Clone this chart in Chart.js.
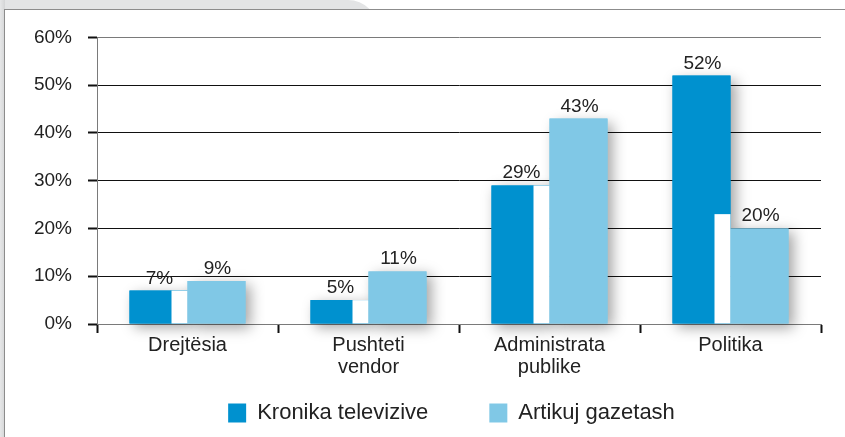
<!DOCTYPE html>
<html>
<head>
<meta charset="utf-8">
<script src="https://cdn.jsdelivr.net/npm/chart.js@4.4.1/dist/chart.umd.min.js"></script>
<style>
  html, body { margin: 0; padding: 0; background: #ffffff; width: 845px; height: 437px; overflow: hidden; }
  #topgrey { position: absolute; left: 0; top: 0; width: 378px; height: 40px; background: #e3e4e5; border-top-right-radius: 30px; }
  #leftgrey { position: absolute; left: 0; top: 0; width: 5px; height: 437px; background: linear-gradient(to right, #e6e7e8, #d4d5d6); }
  #frame { position: absolute; left: 4px; top: 9px; width: 841px; height: 428px; background: #ffffff; border-left: 1px solid #8c8c8c; border-top: 1px solid #8c8c8c; }
  #wrap { position: absolute; left: 0px; top: 0px; width: 840px; height: 427px; }
</style>
</head>
<body>
<div id="topgrey"></div>
<div id="leftgrey"></div>
<div id="frame"><div id="wrap"><canvas id="c" width="840" height="427"></canvas></div></div>
<script>
// ---- data ----
const categories = [['Drejtësia'], ['Pushteti', 'vendor'], ['Administrata', 'publike'], ['Politika']];
const seriesNames = ['Kronika televizive', 'Artikuj gazetash'];
const kronika = [7, 5, 29, 52];
const artikuj = [9, 11, 43, 20];
const whiteStrip = [7, 5, 29, 23];
const yTickLabels = ['0%', '10%', '20%', '30%', '40%', '50%', '60%'];

const DARK = '#0091cf';
const LIGHT = '#80c8e6';
const TEXT = '#222222';
const STRIP_W = 16;
const FONT = '"Liberation Sans", Arial, sans-serif';

const shadowPlugin = {
  id: 'shadowPlugin',
  beforeDraw(chart) {
    Object.values(chart.scales).forEach(s => { s._computeLabelArea = () => undefined; });
  },
  beforeDatasetsDraw(chart) {
    const ctx = chart.ctx;
    ctx.save();
    ctx.shadowColor = 'rgba(0,0,0,0.36)';
    ctx.shadowBlur = 13;
    ctx.shadowOffsetX = 5;
    ctx.shadowOffsetY = 4;
    [0, 1].forEach(di => {
      const meta = chart.getDatasetMeta(di);
      ctx.fillStyle = chart.data.datasets[di].backgroundColor;
      meta.data.forEach(el => {
        const p = el.getProps(['x', 'y', 'base', 'width'], true);
        ctx.fillRect(p.x - p.width / 2, p.y, p.width, p.base - p.y);
      });
    });
    ctx.restore();
  },
  afterDatasetsDraw(chart) {
    const ctx = chart.ctx;
    const yScale = chart.scales.y;
    ctx.save();
    const meta0 = chart.getDatasetMeta(0);
    ctx.fillStyle = '#ffffff';
    meta0.data.forEach((el, i) => {
      const p = el.getProps(['x', 'width'], true);
      const top = yScale.getPixelForValue(whiteStrip[i]);
      const bottom = yScale.getPixelForValue(0);
      ctx.fillRect(p.x + p.width / 2 - STRIP_W, top, STRIP_W, bottom - top - 0.5);
    });
    ctx.fillStyle = TEXT;
    ctx.font = '19px ' + FONT;
    ctx.textAlign = 'center';
    ctx.textBaseline = 'alphabetic';
    [0, 1].forEach(di => {
      const meta = chart.getDatasetMeta(di);
      const vals = chart.data.datasets[di].data;
      meta.data.forEach((el, i) => {
        const p = el.getProps(['x', 'y'], true);
        ctx.fillText(vals[i] + '%', p.x + 1, p.y - 7);
      });
    });
    ctx.restore();
  }
};

new Chart(document.getElementById('c'), {
  type: 'bar',
  data: {
    labels: categories,
    datasets: [
      { label: seriesNames[0], data: kronika, backgroundColor: DARK, borderWidth: 0 },
      { label: seriesNames[1], data: artikuj, backgroundColor: LIGHT, borderWidth: 0 }
    ]
  },
  options: {
    responsive: false,
    animation: false,
    devicePixelRatio: 1,
    categoryPercentage: 0.641,
    barPercentage: 1,
    layout: { padding: { left: 77, right: 24, top: 24, bottom: 3 } },
    plugins: {
      legend: {
        position: 'bottom',
        labels: {
          boxWidth: 18,
          boxHeight: 19,
          padding: 61,
          color: TEXT,
          font: { family: FONT, size: 22 }
        }
      },
      tooltip: { enabled: false }
    },
    scales: {
      x: {
        afterFit(s) { s.height = 17; },
        grid: {
          offset: true,
          drawOnChartArea: false,
          drawTicks: true,
          tickLength: 9,
          tickColor: '#111111',
          tickWidth: 2
        },
        border: { display: true, color: '#7a7a7a', width: 1 },
        ticks: {
          padding: 1,
          color: TEXT,
          maxRotation: 0,
          autoSkip: false,
          font: { family: FONT, size: 20, lineHeight: 1.12 }
        }
      },
      y: {
        min: 0,
        max: 60,
        afterFit(s) { s.width = 15; },
        grid: {
          color: ctx => (ctx.tick && (ctx.tick.value === 0 || ctx.tick.value === 60)) ? '#7a7a7a' : '#111111',
          lineWidth: 1,
          drawTicks: true,
          tickLength: 9,
          tickColor: '#111111',
          tickWidth: 2
        },
        border: { display: true, color: '#7a7a7a', width: 1 },
        ticks: {
          stepSize: 10,
          padding: 16,
          color: TEXT,
          autoSkip: false,
          font: { family: FONT, size: 19 },
          callback: (v, i) => yTickLabels[i]
        }
      }
    }
  },
  plugins: [shadowPlugin]
});
</script>
</body>
</html>
